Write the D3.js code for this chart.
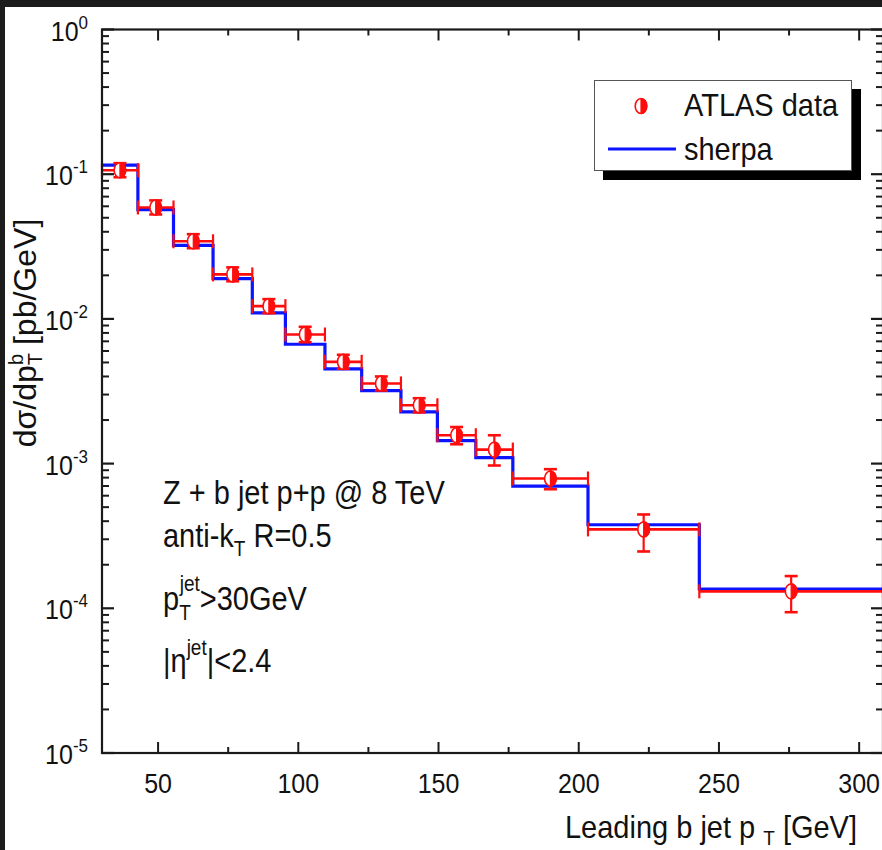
<!DOCTYPE html>
<html>
<head>
<meta charset="utf-8">
<script src="https://cdn.jsdelivr.net/npm/d3@7/dist/d3.min.js"></script>
<style>
  html, body { margin: 0; padding: 0; background: #1c1c1c; }
  svg { display: block; }
  text { font-family: "Liberation Sans", Arial, sans-serif; fill: #111; }
</style>
</head>
<body>
<svg id="chart" width="882" height="850"></svg>
<script>
// ---------------- data ----------------
const binEdges = [30, 42.8, 55.5, 69.6, 83.6, 95.4, 109.5, 122.6, 136.6, 149.6, 163.3, 176.5, 203.3, 243.0, 308.5];
const atlasData = [0.1066, 0.0589, 0.0344, 0.0203, 0.01225, 0.0078, 0.00505, 0.00358, 0.00253, 0.00157, 0.00125, 0.000789, 0.000351, 0.000131];
const atlasLow  = [0.0953, 0.0527, 0.0308, 0.0182, 0.01096, 0.00690, 0.00452, 0.00320, 0.00226, 0.00136, 0.00097, 0.000665, 0.000247, 0.000094];
const atlasHigh = [0.1192, 0.0659, 0.0385, 0.0227, 0.01370, 0.00882, 0.00565, 0.00400, 0.00283, 0.00179, 0.00157, 0.000915, 0.000445, 0.000167];
const sherpa    = [0.1154, 0.0570, 0.0322, 0.0190, 0.0110, 0.00668, 0.00451, 0.00319, 0.00228, 0.00144, 0.00110, 0.000698, 0.000378, 0.000136];
const xTicks = [50, 100, 150, 200, 250, 300];
const xMinorTicks = [75, 125, 175, 225, 275];
const yDecades = [0, -1, -2, -3, -4, -5];
const legendLabels = ["ATLAS data", "sherpa"];

// ---------------- layout ----------------
const svg = d3.select("#chart");
svg.append("rect").attr("x", 5).attr("y", 7).attr("width", 877).attr("height", 843).attr("fill", "#fff");

const L = 102, R = 883, T = 29.5, B = 753;
const x = d3.scaleLinear().domain([30, 308.5]).range([L, R]);
const y = d3.scaleLog().domain([1e-5, 1]).range([B, T]);

const axisColor = "#1a1a1a";
const g = svg.append("g");

// ----- step line (sherpa) -----
let stepPts = [];
sherpa.forEach((v, i) => {
  stepPts.push([binEdges[i], v]);
  stepPts.push([binEdges[i + 1], v]);
});
const line = d3.line().x(d => x(d[0])).y(d => y(d[1]));
g.append("path").datum(stepPts).attr("d", line)
  .attr("fill", "none").attr("stroke", "#0a14ff").attr("stroke-width", 3.2);

// ----- data -----
const red = "#ff0d0d";
const dg = g.append("g");
atlasData.forEach((v, i) => {
  const x0 = x(binEdges[i]), x1 = x(binEdges[i + 1]);
  const xc = x((binEdges[i] + binEdges[i + 1]) / 2);
  const yc = y(v);
  dg.append("line").attr("x1", x0).attr("x2", x1).attr("y1", yc).attr("y2", yc)
    .attr("stroke", red).attr("stroke-width", 2.6);
  [x0, x1].forEach(xx => dg.append("line").attr("x1", xx).attr("x2", xx)
    .attr("y1", yc - 7).attr("y2", yc + 7).attr("stroke", red).attr("stroke-width", 2.2));
  const yh = y(atlasHigh[i]), yl = y(atlasLow[i]);
  dg.append("line").attr("x1", xc).attr("x2", xc).attr("y1", yh).attr("y2", yl)
    .attr("stroke", red).attr("stroke-width", 2.2);
  [yh, yl].forEach(yy => dg.append("line").attr("x1", xc - 6.5).attr("x2", xc + 6.5)
    .attr("y1", yy).attr("y2", yy).attr("stroke", red).attr("stroke-width", 2.6));
  drawMarker(dg, xc, yc);
});

function drawMarker(sel, cx, cy) {
  const rx = 5.8, ry = 7.5;
  sel.append("ellipse").attr("cx", cx).attr("cy", cy).attr("rx", rx).attr("ry", ry)
    .attr("fill", "#fff").attr("stroke", red).attr("stroke-width", 1.6);
  sel.append("path")
    .attr("d", `M${cx},${cy - ry} A${rx},${ry} 0 0 1 ${cx},${cy + ry} Z`)
    .attr("fill", red).attr("stroke", red).attr("stroke-width", 1.2);
}

// ----- axes frame -----
const frame = g.append("g");
frame.append("rect").attr("x", L).attr("y", T).attr("width", R - L).attr("height", B - T)
  .attr("fill", "none").attr("stroke", axisColor).attr("stroke-width", 2.2);

const xMaj = 11, xMin = 6;
xTicks.forEach(t => {
  const xx = x(t);
  frame.append("line").attr("x1", xx).attr("x2", xx).attr("y1", B).attr("y2", B - xMaj).attr("stroke", axisColor).attr("stroke-width", 2);
  frame.append("line").attr("x1", xx).attr("x2", xx).attr("y1", T).attr("y2", T + xMaj).attr("stroke", axisColor).attr("stroke-width", 2);
  frame.append("text").attr("transform", `translate(${xx},${B + 40}) scale(1,1.08)`).attr("text-anchor", "middle")
    .attr("font-size", 25).text(t);
});
xMinorTicks.forEach(t => {
  const xx = x(t);
  frame.append("line").attr("x1", xx).attr("x2", xx).attr("y1", B).attr("y2", B - xMin).attr("stroke", axisColor).attr("stroke-width", 2);
  frame.append("line").attr("x1", xx).attr("x2", xx).attr("y1", T).attr("y2", T + xMin).attr("stroke", axisColor).attr("stroke-width", 2);
});

const yMaj = 12, yMin = 7;
yDecades.forEach(d => {
  const base = Math.pow(10, d);
  const yy = y(base);
  frame.append("line").attr("x1", L).attr("x2", L + yMaj).attr("y1", yy).attr("y2", yy).attr("stroke", axisColor).attr("stroke-width", 2.2);
  frame.append("line").attr("x1", R).attr("x2", R - yMaj).attr("y1", yy).attr("y2", yy).attr("stroke", axisColor).attr("stroke-width", 2.2);
  const tx = frame.append("text").attr("transform", `translate(88,${yy + 11}) scale(1,1.08)`).attr("text-anchor", "end").attr("font-size", 25);
  tx.append("tspan").text("10");
  tx.append("tspan").attr("dy", -11).attr("font-size", 17).text(d);
  if (d > -5) {
    for (let k = 2; k <= 9; k++) {
      const ym = y(base * k / 10);
      frame.append("line").attr("x1", L).attr("x2", L + yMin).attr("y1", ym).attr("y2", ym).attr("stroke", axisColor).attr("stroke-width", 2);
      frame.append("line").attr("x1", R).attr("x2", R - yMin).attr("y1", ym).attr("y2", ym).attr("stroke", axisColor).attr("stroke-width", 2);
    }
  }
});

// axis titles
const xt = svg.append("text").attr("transform", "translate(857,838) scale(1,1.1)").attr("text-anchor", "end").attr("font-size", 29);
xt.append("tspan").text("Leading b jet p ");
xt.append("tspan").attr("dy", 6).attr("font-size", 19).text("T");
xt.append("tspan").attr("dy", -6).text(" [GeV]");

const yt = svg.append("text").attr("transform", "translate(36,333) rotate(-90)").attr("text-anchor", "middle").attr("font-size", 32);
yt.append("tspan").text("dσ/dp");
yt.append("tspan").attr("dy", 6).attr("font-size", 20).text("T");
yt.append("tspan").attr("dx", -12).attr("dy", -19).attr("font-size", 20).text("b");
yt.append("tspan").attr("dy", 13).text(" [pb/GeV]");

// annotation
const ax = 163;
const sy = 1.12;
const a1 = svg.append("text").attr("transform", `translate(${ax},504) scale(1,${sy})`).attr("font-size", 29).text("Z + b jet p+p @ 8 TeV");
const a2 = svg.append("text").attr("transform", `translate(${ax},547) scale(1,${sy})`).attr("font-size", 29);
a2.append("tspan").text("anti-k");
a2.append("tspan").attr("dy", 8).attr("font-size", 19).text("T");
a2.append("tspan").attr("dy", -8).text(" R=0.5");
const a3 = svg.append("text").attr("transform", `translate(${ax},610) scale(1,${sy})`).attr("font-size", 29);
a3.append("tspan").text("p");
a3.append("tspan").attr("dy", 9).attr("font-size", 19).text("T");
a3.append("tspan").attr("dx", -11).attr("dy", -26).attr("font-size", 19).text("jet");
a3.append("tspan").attr("dy", 17).text(">30GeV");
const a4 = svg.append("text").attr("transform", `translate(${ax},672) scale(1,${sy})`).attr("font-size", 29);
a4.append("tspan").text("|η");
a4.append("tspan").attr("dy", -15).attr("font-size", 19).text("jet");
a4.append("tspan").attr("dy", 15).text("|<2.4");

// legend
const lg = svg.append("g");
lg.append("rect").attr("x", 603).attr("y", 89).attr("width", 258).attr("height", 91).attr("fill", "#000");
lg.append("rect").attr("x", 594.5).attr("y", 80.5).attr("width", 257).attr("height", 90).attr("fill", "#fff").attr("stroke", "#555").attr("stroke-width", 1);
drawMarker(lg, 641, 106);
lg.append("line").attr("x1", 608).attr("x2", 676).attr("y1", 149).attr("y2", 149).attr("stroke", "#0a14ff").attr("stroke-width", 3.2);
lg.append("text").attr("transform", `translate(684,116) scale(1,1.1)`).attr("font-size", 29).text(legendLabels[0]);
lg.append("text").attr("transform", `translate(684,160) scale(1,1.1)`).attr("font-size", 29).text(legendLabels[1]);
</script>
</body>
</html>
